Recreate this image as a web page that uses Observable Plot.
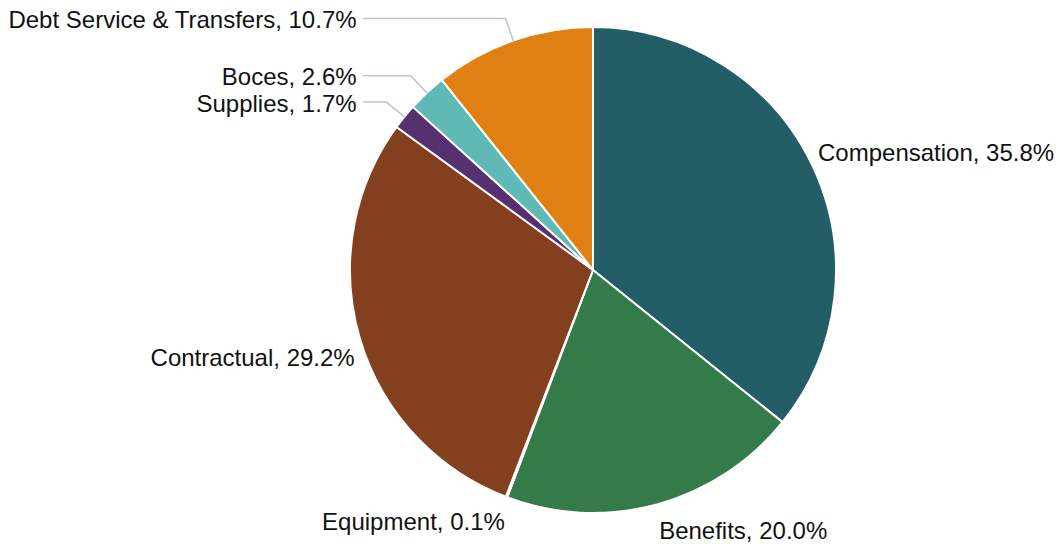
<!DOCTYPE html>
<html>
<head>
<meta charset="utf-8">
<script src="https://cdn.jsdelivr.net/npm/d3@7"></script>
<script src="https://cdn.jsdelivr.net/npm/@observablehq/plot@0.6"></script>
<style>
  html, body { margin: 0; padding: 0; background: #fff; }
  #chart { width: 1060px; height: 544px; }
</style>
</head>
<body>
<div id="chart"></div>
<script>
// ---- data ----
const categories = ["Compensation", "Benefits", "Equipment", "Contractual", "Supplies", "Boces", "Debt Service & Transfers"];
const shares = [35.8, 20.0, 0.1, 29.2, 1.7, 2.6, 10.7];
const colors = ["#235e67", "#357b49", "#f5b45a", "#843f1e", "#57306f", "#5fbab6", "#e08012"];

// ---- build table ----
const rows = categories.map((name, i) => ({name, share: shares[i], label: `${name}, ${shares[i].toFixed(1)}%`}));
const arcs = d3.pie().sort(null).value(d => d.share)(rows);
arcs.forEach(a => { a.mid = (a.startAngle + a.endAngle) / 2; });

const color = Plot.scale({color: {domain: categories, range: colors}});

// layout rules (unit circle coordinates)
const R = 243;
const kx = (R + 6) / R, ky = (R + 27) / R, kElbow = (R + 24) / R;
const colEnd = -0.946, colText = -0.975;
const isColumn = a => Math.sin(a.mid) < 0 && Math.cos(a.mid) > 0.3;

const big = arcs.filter(a => !isColumn(a)).map(a => {
  const s = Math.sin(a.mid), c = Math.cos(a.mid);
  // labels close to the horizontal sit a little further out vertically
  const k = Math.abs(c) < 0.35 ? ky + 0.17 : ky;
  return {label: a.data.label, x: kx * s, y: c * k, right: s >= 0};
});
const col = arcs.filter(isColumn).map(a => {
  const ey = kElbow * Math.cos(a.mid);
  return {label: a.data.label, x: colText, y: ey - 0.008,
    pts: [[Math.sin(a.mid), Math.cos(a.mid)], [kElbow * Math.sin(a.mid), ey], [colEnd, ey]]};
});
const leaders = col.flatMap(c => c.pts.map(p => ({name: c.label, x: p[0], y: p[1]})));

function slices(index, scales) {
  const cx = scales.x(0), cy = scales.y(0), r = scales.x(1) - scales.x(0);
  const arc = d3.arc().innerRadius(0).outerRadius(r);
  const g = d3.create("svg:g").attr("transform", `translate(${cx},${cy})`);
  g.selectAll("path").data(arcs).join("path")
    .attr("d", arc)
    .attr("fill", d => color.apply(d.data.name))
    .attr("stroke", "#ffffff")
    .attr("stroke-width", 2)
    .attr("stroke-linejoin", "round");
  return g.node();
}

const font = "'Liberation Sans', Arial, sans-serif";
const fs = 24;
const chart = Plot.plot({
  width: 1060,
  height: 544,
  margin: 0,
  x: {domain: [-1, 1], range: [350, 836], axis: null},
  y: {domain: [-1, 1], range: [513, 27], axis: null},
  style: {fontFamily: font, background: "#fff"},
  marks: [
    slices,
    Plot.line(leaders, {x: "x", y: "y", z: "name", stroke: "#b9c3d2", strokeWidth: 1.5}),
    Plot.text(big.filter(d => d.right), {x: "x", y: "y", text: "label", textAnchor: "start", fontSize: fs, fill: "#111"}),
    Plot.text(big.filter(d => !d.right), {x: "x", y: "y", text: "label", textAnchor: "end", fontSize: fs, fill: "#111"}),
    Plot.text(col, {x: "x", y: "y", text: "label", textAnchor: "end", fontSize: fs, fill: "#111"})
  ]
});
document.getElementById("chart").appendChild(chart);
</script>
</body>
</html>
